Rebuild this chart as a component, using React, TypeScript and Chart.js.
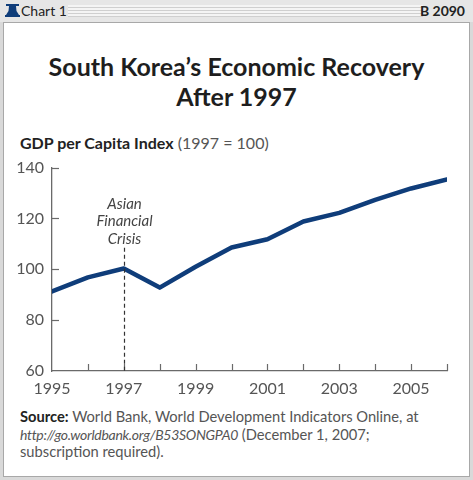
import React, { useEffect, useRef } from "react";
import { Chart, registerables } from "chart.js";

Chart.register(...registerables);

const years = [1995, 1996, 1997, 1998, 1999, 2000, 2001, 2002, 2003, 2004, 2005, 2006];
const gdpIndex = [91.3, 96.8, 100.3, 92.8, 101.0, 108.6, 111.8, 118.8, 122.2, 127.3, 131.8, 135.3];
const yTicks = [60, 80, 100, 120, 140];
const crisisYear = 1997;
const crisisTop = 108.5;
const crisisLabel = ["Asian", "Financial", "Crisis"];

const NAVY = "#0f3d7a";
const AXIS = "#6a6a6a";
const LABEL = "#555555";
const SANS = "Lato, 'Open Sans', sans-serif";

const innerTicks = {
  id: "innerTicks",
  afterDraw(chart: any) {
    const { ctx, chartArea, scales } = chart;
    const xs = scales.x;
    const ys = scales.y;
    ctx.save();
    ctx.strokeStyle = AXIS;
    ctx.lineWidth = 1.2;
    for (const yr of years) {
      if (yr === years[0]) continue;
      const px = Math.round(xs.getPixelForValue(yr)) + 0.5;
      ctx.beginPath();
      ctx.moveTo(px, chartArea.bottom);
      ctx.lineTo(px, chartArea.bottom - 7);
      ctx.stroke();
    }
    for (const v of yTicks) {
      if (v === yTicks[0]) continue;
      const py = Math.round(ys.getPixelForValue(v)) + 0.5;
      ctx.beginPath();
      ctx.moveTo(chartArea.left, py);
      ctx.lineTo(chartArea.left + 7, py);
      ctx.stroke();
    }
    // crisis marker
    const cx = Math.round(xs.getPixelForValue(crisisYear)) + 0.5;
    const topY = ys.getPixelForValue(crisisTop);
    ctx.strokeStyle = "#333";
    ctx.lineWidth = 1.2;
    ctx.setLineDash([4, 3]);
    ctx.beginPath();
    ctx.moveTo(cx, topY);
    ctx.lineTo(cx, chartArea.bottom);
    ctx.stroke();
    ctx.setLineDash([]);
    ctx.fillStyle = "#444";
    ctx.font = `italic 15px ${SANS}`;
    ctx.textAlign = "center";
    ctx.textBaseline = "middle";
    const lh = 17.5;
    crisisLabel.forEach((t, i) => {
      ctx.fillText(t, cx, topY - 9 - (crisisLabel.length - 1 - i) * lh);
    });
    ctx.restore();
  },
};

function Bell() {
  return (
    <svg width="15" height="14" viewBox="0 0 15 14" style={{ position: "absolute", left: 5, top: 4 }}>
      <rect x="1" y="0" width="13" height="2" fill={NAVY} />
      <path d="M4 2 L11 2 L11.5 7 L14 11 L1 11 L3.5 7 Z" fill={NAVY} />
      <rect x="0" y="11" width="15" height="2" fill={NAVY} />
    </svg>
  );
}

export default function App() {
  const ref = useRef<HTMLCanvasElement | null>(null);

  useEffect(() => {
    document.body.style.margin = "0";
    const canvas = ref.current;
    if (!canvas) return;
    const chart = new Chart(canvas, {
      type: "line",
      data: {
        datasets: [
          {
            data: years.map((y, i) => ({ x: y, y: gdpIndex[i] })),
            borderColor: NAVY,
            borderWidth: 4.5,
            pointRadius: 0,
            tension: 0,
            borderJoinStyle: "round",
            borderCapStyle: "round",
          },
        ],
      },
      options: {
        animation: false,
        responsive: false,
        events: [],
        layout: { padding: { left: 0, right: 26, top: 16, bottom: 0 } },
        plugins: { legend: { display: false }, tooltip: { enabled: false }, title: { display: false } },
        scales: {
          x: {
            type: "linear",
            min: years[0],
            max: years[years.length - 1],
            afterFit: (s: any) => {
              s.height = 29;
            },
            ticks: {
              stepSize: 1,
              autoSkip: false,
              maxRotation: 0,
              padding: 8,
              color: LABEL,
              font: { family: SANS, size: 16 },
              callback: (v: any) => (Number(v) % 2 === 1 && Number(v) < 2006 ? String(v) : ""),
            },
            grid: { display: true, drawOnChartArea: false, drawTicks: false },
            border: { display: true, color: AXIS, width: 1.3 },
          },
          y: {
            min: yTicks[0],
            max: yTicks[yTicks.length - 1],
            afterFit: (s: any) => {
              s.width = 52;
            },
            afterBuildTicks: (s: any) => {
              s.ticks = yTicks.map((v) => ({ value: v }));
            },
            ticks: {
              padding: 8,
              color: LABEL,
              font: { family: SANS, size: 16 },
            },
            grid: { display: true, drawOnChartArea: false, drawTicks: false },
            border: { display: true, color: AXIS, width: 1.3 },
          },
        },
      },
      plugins: [innerTicks],
    } as any);
    return () => chart.destroy();
  }, []);

  return (
    <div
      style={{
        position: "fixed",
        left: 0,
        top: 0,
        width: 473,
        height: 480,
        background: "#d9d9d9",
        fontFamily: SANS,
        overflow: "hidden",
      }}
    >
      {/* header */}
      <div style={{ position: "absolute", left: 0, top: 0, width: 473, height: 22, background: "#e6e6e6" }}>
        <Bell />
        <div style={{ position: "absolute", left: 21, top: 2, fontSize: 14, color: "#222", lineHeight: "18px" }}>Chart 1</div>
        <div
          style={{
            position: "absolute",
            left: 68,
            top: 5,
            width: 355,
            height: 12,
            background: "repeating-linear-gradient(to bottom, #f4f4f4 0px, #f4f4f4 2px, #cfcfcf 2px, #cfcfcf 3px)",
          }}
        />
        <div style={{ position: "absolute", right: 8, top: 2, fontSize: 14, fontWeight: 700, color: "#222", lineHeight: "18px" }}>
          B 2090
        </div>
      </div>
      {/* panel */}
      <div
        style={{
          position: "absolute",
          left: 3,
          top: 22,
          width: 465,
          height: 453,
          background: "#ffffff",
          border: "1px solid #a8a8a8",
        }}
      />
      <div
        style={{
          position: "absolute",
          left: 0,
          top: 51,
          width: 473,
          textAlign: "center",
          fontSize: 25,
          fontWeight: 700,
          lineHeight: "30px",
          color: "#1e1e1e",
          fontFamily: "Lato, sans-serif",
        }}
      >
        South Korea’s Economic Recovery
        <br />
        After 1997
      </div>
      <div style={{ position: "absolute", left: 20, top: 134, fontSize: 16, lineHeight: "18px", color: "#222" }}>
        <span style={{ fontWeight: 700 }}>GDP per Capita Index</span>
        <span style={{ color: "#555" }}> (1997 = 100)</span>
      </div>
      <canvas ref={ref} width={473} height={250} style={{ position: "absolute", left: 0, top: 150, width: 473, height: 250 }} />
      <div
        style={{
          position: "absolute",
          left: 20,
          top: 408,
          width: 445,
          fontSize: 14.7,
          lineHeight: "17.5px",
          color: "#555",
          whiteSpace: "nowrap",
        }}
      >
        <span style={{ fontWeight: 700, color: "#222" }}>Source:</span> World Bank, World Development Indicators Online, at
        <br />
        <i style={{ fontSize: 14, letterSpacing: -0.3 }}>http://go.worldbank.org/B53SONGPA0</i> (December 1, 2007;
        <br />
        subscription required).
      </div>
    </div>
  );
}
